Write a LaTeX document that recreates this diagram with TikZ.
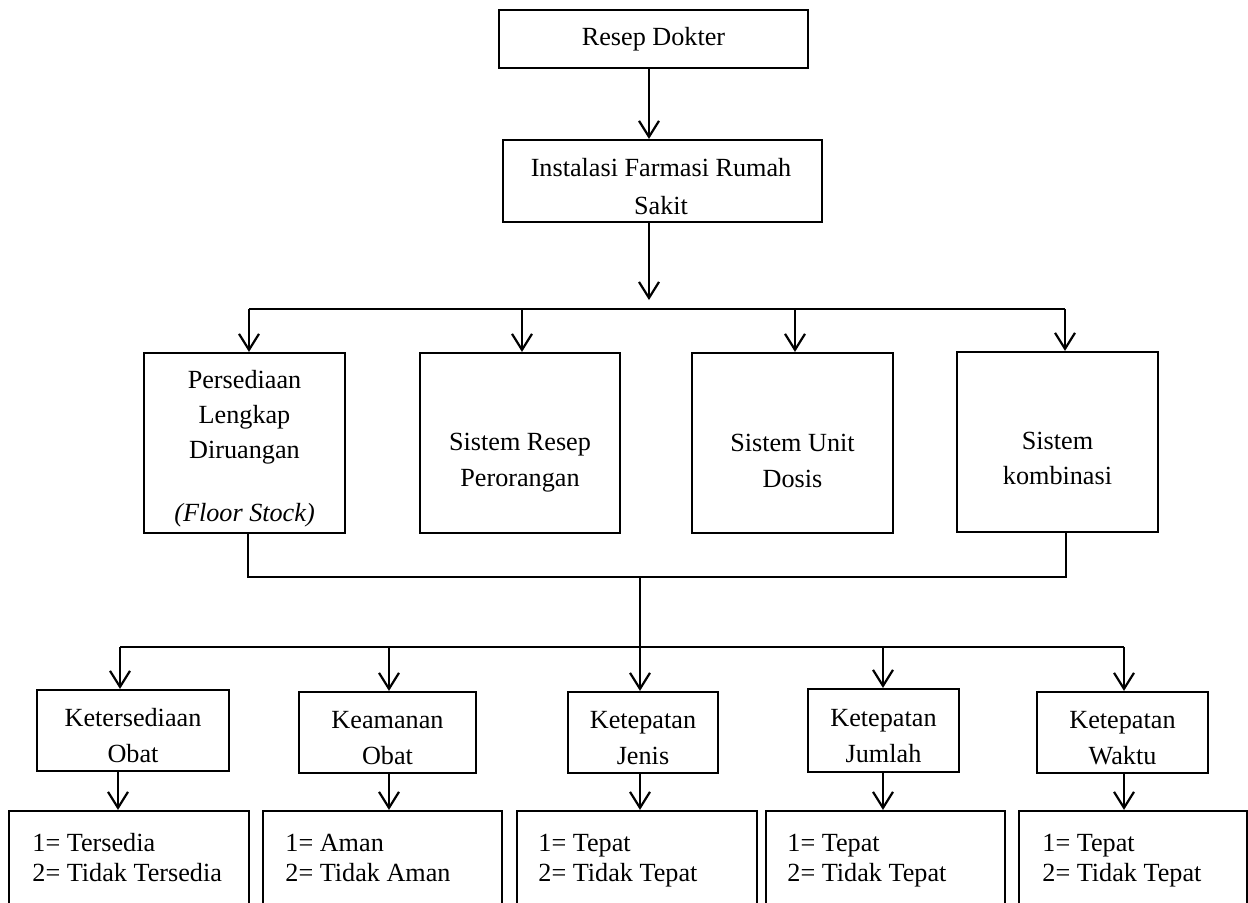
\documentclass[tikz,border=0pt]{standalone}
\usepackage{fontspec}
\setmainfont{Liberation Serif}
\usetikzlibrary{arrows.meta,fit}
\begin{document}
\begin{tikzpicture}[x=0.5pt,y=-0.5pt,
  box/.style={draw, line width=1.1pt, inner sep=0pt},
  txt/.style={inner sep=0pt, align=center, font=\fontsize{13.1}{18}\selectfont},
  res/.style={inner sep=0pt, align=left, anchor=west, font=\fontsize{13.1}{15}\selectfont},
  conn/.style={line width=1.1pt},
  arr/.style={conn, -{Straight Barb[length=8pt,width=10pt]}}]
\useasboundingbox (0,0) rectangle (1248,902);
\begin{scope}
\clip (0,0) rectangle (1248,902);
% top boxes
\node[box, fit={(499,10)(808,68)}] (rd) {};
\node[txt] (rdt) at (653.5,39) {Resep Dokter};
\node[box, fit={(503,140)(822,222)}] (ifr) {};
\node[txt, font=\fontsize{13.1}{19}\selectfont] (ifrt) at (661,187) {Instalasi Farmasi Rumah\\Sakit};
% second row
\node[box, fit={(144,353)(345,533)}] (b1) {};
\node[txt, font=\fontsize{13.1}{17.5}\selectfont] (b1t) at (244.5,449) {Persediaan\\Lengkap\\Diruangan\\[14pt]\textit{(Floor Stock)}};
\node[box, fit={(420,353)(620,533)}] (b2) {};
\node[txt] (b2t) at (520,463) {Sistem Resep\\Perorangan};
\node[box, fit={(692,353)(893,533)}] (b3) {};
\node[txt] (b3t) at (792.5,461) {Sistem Unit\\Dosis};
\node[box, fit={(957,352)(1158,532)}] (b4) {};
\node[txt, font=\fontsize{13.1}{17.5}\selectfont] (b4t) at (1057.5,458.5) {Sistem\\kombinasi};
% third row
\node[box, fit={(37,690)(229,771)}] (k1) {};
\node[txt] (k1t) at (133,736) {Ketersediaan\\Obat};
\node[box, fit={(299,692)(476,773)}] (k2) {};
\node[txt] (k2t) at (387.5,738) {Keamanan\\Obat};
\node[box, fit={(568,692)(718,773)}] (k3) {};
\node[txt] (k3t) at (643,738) {Ketepatan\\Jenis};
\node[box, fit={(808,689)(959,772)}] (k4) {};
\node[txt] (k4t) at (883.5,736) {Ketepatan\\Jumlah};
\node[box, fit={(1037,692)(1208,773)}] (k5) {};
\node[txt] (k5t) at (1122.5,738) {Ketepatan\\Waktu};
% result boxes
\node[box, fit={(9,811)(249,960)}] (r1) {};
\node[res] (r1t) at (32,858) {1= Tersedia\\2= Tidak Tersedia};
\node[box, fit={(263,811)(502,960)}] (r2) {};
\node[res] (r2t) at (285,858) {1= Aman\\2= Tidak Aman};
\node[box, fit={(517,811)(757,960)}] (r3) {};
\node[res] (r3t) at (538,861) {1= Tepat\\2= Tidak Tepat};
\node[box, fit={(766,811)(1005,960)}] (r4) {};
\node[res] (r4t) at (787,861) {1= Tepat\\2= Tidak Tepat};
\node[box, fit={(1019,811)(1247,960)}] (r5) {};
\node[res] (r5t) at (1042,861) {1= Tepat\\2= Tidak Tepat};
% coordinates
\coordinate (c0) at (649,0);
\coordinate (cA) at (649,300);
\coordinate (h1) at (249,309);
\coordinate (h2) at (522,309);
\coordinate (h3) at (795,309);
\coordinate (h4) at (1065,309);
\coordinate (l1) at (248,577);
\coordinate (l4) at (1066,577);
\coordinate (m) at (640,577);
\coordinate (g1) at (120,647);
\coordinate (g2) at (389,647);
\coordinate (g4) at (883,647);
\coordinate (g5) at (1124,647);
\coordinate (a1) at (118,0);
% connectors
\draw[arr] (rd.south -| c0) -- (ifr.north -| c0);
\draw[arr] (ifr.south -| c0) -- (cA);
\draw[conn] (h1) -- (h4);
\draw[arr] (h1) -- (b1.north -| h1);
\draw[arr] (h2) -- (b2.north -| h2);
\draw[arr] (h3) -- (b3.north -| h3);
\draw[arr] (h4) -- (b4.north -| h4);
\draw[conn] (b1.south -| l1) -- (l1) -- (l4) -- (b4.south -| l4);
\draw[arr] (m) -- (k3.north -| m);
\draw[conn] (g1) -- (g5);
\draw[arr] (g1) -- (k1.north -| g1);
\draw[arr] (g2) -- (k2.north -| g2);
\draw[arr] (g4) -- (k4.north -| g4);
\draw[arr] (g5) -- (k5.north -| g5);
\draw[arr] (k1.south -| a1) -- (r1.north -| a1);
\draw[arr] (k2.south -| g2) -- (r2.north -| g2);
\draw[arr] (k3.south -| m) -- (r3.north -| m);
\draw[arr] (k4.south -| g4) -- (r4.north -| g4);
\draw[arr] (k5.south -| g5) -- (r5.north -| g5);
\end{scope}
\end{tikzpicture}
\end{document}
